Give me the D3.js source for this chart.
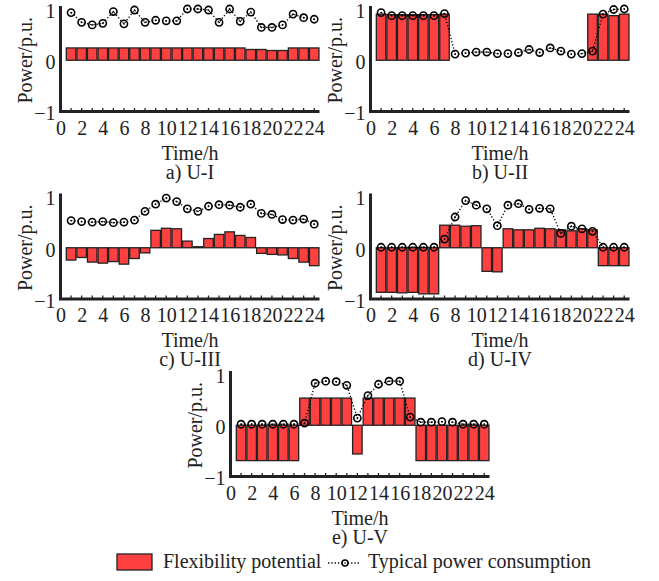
<!DOCTYPE html>
<html>
<head>
<meta charset="utf-8">
<script src="https://cdn.jsdelivr.net/npm/d3@7"></script>
<style>
  body { margin: 0; background: #fff; }
  svg { display: block; }
  svg text { font-family: "Liberation Serif", "Times New Roman", serif; font-size: 20px; fill: #222; }
</style>
</head>
<body>
<svg width="659" height="581"></svg>
<script>
// часы 1..24
const hours = d3.range(1, 25);
const xTicks = d3.range(0, 25, 2);
const yTicks = [-1, 0, 1];

// потенциал гибкости (столбцы)
const flexA = [0.24, 0.24, 0.24, 0.24, 0.24, 0.24, 0.24, 0.24, 0.24, 0.24, 0.24, 0.24,
               0.24, 0.24, 0.24, 0.24, 0.24, 0.21, 0.21, 0.19, 0.19, 0.24, 0.24, 0.24];
const flexB = [0.90, 0.89, 0.89, 0.89, 0.89, 0.89, 0.90, 0, 0, 0, 0, 0,
               0, 0, 0, 0, 0, 0, 0, 0, 0.90, 0.90, 0.87, 0.90];
const flexC = [-0.24, -0.19, -0.28, -0.30, -0.27, -0.32, -0.21, -0.10, 0.34, 0.38, 0.37, 0.13,
               0.02, 0.18, 0.26, 0.31, 0.24, 0.20, -0.11, -0.13, -0.14, -0.21, -0.28, -0.35];
const flexD = [-0.87, -0.87, -0.88, -0.87, -0.90, -0.90, 0.44, 0.44, 0.42, 0.43, -0.46, -0.47,
               0.37, 0.35, 0.35, 0.38, 0.37, 0.35, 0.33, 0.37, 0.35, -0.35, -0.35, -0.35];
const flexE = [-0.69, -0.69, -0.69, -0.69, -0.69, -0.69, 0.53, 0.53, 0.53, 0.53, 0.53, -0.56,
               0.53, 0.53, 0.53, 0.53, 0.53, -0.69, -0.69, -0.69, -0.69, -0.69, -0.69, -0.69];

// типичное потребление (точки)
const loadA = [0.93, 0.74, 0.69, 0.72, 0.95, 0.71, 0.98, 0.74, 0.78, 0.77, 0.77, 1.00,
               1.00, 0.98, 0.74, 1.00, 0.76, 0.94, 0.64, 0.64, 0.69, 0.90, 0.83, 0.80];
const loadB = [0.93, 0.87, 0.87, 0.87, 0.87, 0.87, 0.91, 0.12, 0.14, 0.16, 0.16, 0.13,
               0.13, 0.15, 0.21, 0.15, 0.24, 0.18, 0.12, 0.13, 0.18, 0.90, 0.99, 1.00];
const loadC = [0.53, 0.51, 0.50, 0.51, 0.49, 0.50, 0.54, 0.71, 0.85, 0.97, 0.90, 0.76,
               0.71, 0.81, 0.84, 0.83, 0.79, 0.85, 0.67, 0.65, 0.55, 0.54, 0.56, 0.46];
const loadD = [0.01, 0.01, 0.01, 0.01, 0.01, 0.01, 0.17, 0.60, 0.92, 0.83, 0.76, 0.43,
               0.83, 0.86, 0.75, 0.77, 0.76, 0.28, 0.42, 0.37, 0.32, 0.01, 0.01, 0.01];
const loadE = [0.02, 0.02, 0.02, 0.02, 0.02, 0.02, 0.04, 0.82, 0.86, 0.85, 0.78, 0.14,
               0.58, 0.80, 0.86, 0.86, 0.16, 0.06, 0.06, 0.07, 0.06, 0.02, 0.02, 0.02];

const titles = ["a) U-I", "b) U-II", "c) U-III", "d) U-IV", "e) U-V"];

const svg = d3.select("svg");

const plotW = 259;
const barColor = "#ff4040";
const axisColor = "#222";

let x = d3.scaleLinear().domain([0, 24.5]).range([0, plotW]);
let y = d3.scaleLinear().domain([-1, 1]).range([111.5, 9]);
let yTop = 1.06;

function drawPanel(ox, oy, flex, load, title) {
    let g = svg.append("g").attr("transform", `translate(${ox}, ${oy})`);

    let data = hours.map((h, i) => ({ h: h, f: flex[i], p: load[i] }));
    let bw = x(0.9) - x(0);

    // столбики
    g.selectAll("rect.bar")
        .data(data)
        .enter()
        .append("rect")
        .attr("class", "bar")
        .attr("x", d => x(d.h) - bw / 2)
        .attr("y", d => y(Math.max(0, d.f)))
        .attr("width", bw)
        .attr("height", d => Math.abs(y(d.f) - y(0)))
        .attr("fill", barColor)
        .attr("stroke", "#222")
        .attr("stroke-width", 1.3);

    // оси
    let axisX = d3.axisBottom(x).tickValues(xTicks).tickSize(0).tickFormat(d3.format("d"));
    let gx = g.append("g")
        .attr("transform", `translate(0, ${y(-1)})`)
        .call(axisX)
        .attr("font-family", null)
        .attr("font-size", null);
    gx.select(".domain").remove();
    gx.selectAll("text")
        .attr("dy", null)
        .attr("y", 23);

    // короткие засечки внутрь
    g.selectAll("line.xtick")
        .data(d3.range(1, 25))
        .enter()
        .append("line")
        .attr("x1", d => x(d)).attr("x2", d => x(d))
        .attr("y1", y(-1)).attr("y2", y(-1) - 3.5)
        .attr("stroke", axisColor)
        .attr("stroke-width", 1.3);

    let axisY = d3.axisLeft(y).tickValues(yTicks).tickSize(0).tickPadding(5)
        .tickFormat(d3.format("d"));
    let gy = g.append("g").call(axisY)
        .attr("font-family", null)
        .attr("font-size", null);
    gy.select(".domain").remove();
    gy.selectAll("text").attr("dy", "0.42em");

    g.append("path")
        .attr("d", `M0,${y(yTop)}V${y(-1)}H${plotW}`)
        .attr("fill", "none")
        .attr("stroke", axisColor)
        .attr("stroke-width", 3);

    // линия потребления
    let line = d3.line().x(d => x(d.h)).y(d => y(d.p));
    g.append("path")
        .datum(data)
        .attr("d", line)
        .attr("fill", "none")
        .attr("stroke", "#000")
        .attr("stroke-width", 1.3)
        .attr("stroke-dasharray", "1.3,2");

    g.selectAll("circle.mk")
        .data(data)
        .enter()
        .append("circle")
        .attr("class", "mk")
        .attr("cx", d => x(d.h))
        .attr("cy", d => y(d.p))
        .attr("r", 3.6)
        .attr("fill", "none")
        .attr("stroke", "#000")
        .attr("stroke-width", 1.6);

    g.selectAll("circle.dot")
        .data(data)
        .enter()
        .append("circle")
        .attr("class", "dot")
        .attr("cx", d => x(d.h))
        .attr("cy", d => y(d.p))
        .attr("r", 0.9)
        .attr("fill", "#000");

    // подписи
    g.append("text")
        .attr("x", plotW / 2)
        .attr("y", 159.5)
        .attr("text-anchor", "middle")
        .text("Time/h");

    g.append("text")
        .attr("x", plotW / 2)
        .attr("y", 178.5)
        .attr("text-anchor", "middle")
        .text(title);

    g.append("text")
        .attr("transform", `translate(-28.5, ${y(0)}) rotate(-90)`)
        .attr("text-anchor", "middle")
        .text("Power/p.u.");
}

drawPanel(60.5, 0, flexA, loadA, titles[0]);
drawPanel(370.5, 0, flexB, loadB, titles[1]);
drawPanel(60.5, 187.5, flexC, loadC, titles[2]);
drawPanel(370.5, 187.5, flexD, loadD, titles[3]);
drawPanel(230.5, 365, flexE, loadE, titles[4]);

// легенда
let lg = svg.append("g");
lg.append("rect")
    .attr("x", 117).attr("y", 554)
    .attr("width", 35).attr("height", 16)
    .attr("fill", barColor)
    .attr("stroke", "#222")
    .attr("stroke-width", 1.3);
lg.append("text")
    .attr("x", 163).attr("y", 568)
    .text("Flexibility potential");
lg.append("line")
    .attr("x1", 328).attr("x2", 361)
    .attr("y1", 563).attr("y2", 563)
    .attr("stroke", "#000")
    .attr("stroke-width", 1.3)
    .attr("stroke-dasharray", "1.3,2");
lg.append("circle")
    .attr("cx", 345).attr("cy", 563).attr("r", 3)
    .attr("fill", "#fff")
    .attr("stroke", "#000")
    .attr("stroke-width", 1.5);
lg.append("circle")
    .attr("cx", 345).attr("cy", 563).attr("r", 0.8)
    .attr("fill", "#000");
lg.append("text")
    .attr("x", 368).attr("y", 568)
    .text("Typical power consumption");
</script>
</body>
</html>
